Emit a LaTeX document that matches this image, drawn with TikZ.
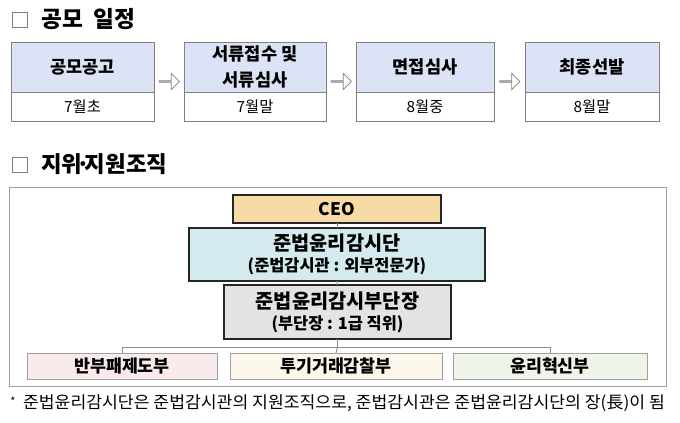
\documentclass[tikz,border=0pt]{standalone}
\usepackage{fontspec}
\setmainfont{Noto Sans CJK KR}
\usetikzlibrary{shapes.arrows}
\definecolor{hdrfill}{HTML}{DDE3F6}
\definecolor{boxline}{HTML}{808080}
\definecolor{ceofill}{HTML}{F6DBA6}
\definecolor{teamfill}{HTML}{D3EBEF}
\definecolor{subfill}{HTML}{E3E3E3}
\definecolor{pinkfill}{HTML}{F9EBEB}
\definecolor{creamfill}{HTML}{FDF6EA}
\definecolor{greenfill}{HTML}{EFF4E8}
\definecolor{darkline}{HTML}{262626}
\definecolor{conn}{HTML}{8C8C8C}
\definecolor{framec}{HTML}{A0A0A0}
\begin{document}
\begin{tikzpicture}[x=0.75pt,y=-0.75pt,
  sz/.style 2 args={minimum width=#1*0.75pt, minimum height=#2*0.75pt},
  base/.style={inner sep=0pt, outer sep=0pt, anchor=north west, align=center},
  hdr/.style={base, draw=boxline, line width=0.75pt, fill=hdrfill, font=\bfseries\fontsize{13.2pt}{20pt}\selectfont},
  cell/.style={base, draw=boxline, line width=0.75pt, fill=white, font=\fontsize{11.5pt}{14pt}\selectfont},
  garrow/.style={single arrow, draw=boxline, fill=white, line width=0.6pt, inner sep=0pt, minimum height=20*0.75pt, minimum width=16*0.75pt, single arrow head extend=4.5*0.75pt},
  sq/.style={draw=boxline, line width=0.6pt, fill=white, inner sep=0pt, minimum size=15*0.75pt},
  ttl/.style={anchor=west, inner sep=0pt, font=\bfseries\fontsize{17pt}{19pt}\selectfont},
  orgbox/.style={base, draw=darkline, line width=1.3pt, font=\bfseries\fontsize{14.8pt}{15.75pt}\selectfont},
  leaf/.style={base, draw=framec, line width=0.75pt, font=\bfseries\fontsize{13pt}{15pt}\selectfont},
  link/.style={draw=conn, line width=0.7pt}
]
\useasboundingbox (0,0) rectangle (680,422);

% ---- title 1
\node[sq] (sq1) at (20,19.5) {};
\node[ttl] (t1) at (41,19) {공모\hspace{0.45em}일정};

% ---- schedule
\node[hdr, sz={143}{50}] (s1h) at (11,42) {공모공고};
\node[cell, sz={143}{29}] (s1b) at (11,92) {7월초};
\node[hdr, sz={142}{50}] (s2h) at (184,42) {서류접수 및\\서류심사};
\node[cell, sz={142}{29}] (s2b) at (184,92) {7월말};
\node[hdr, sz={138}{50}] (s3h) at (356,42) {면접심사};
\node[cell, sz={138}{29}] (s3b) at (356,92) {8월중};
\node[hdr, sz={134}{50}] (s4h) at (525,42) {최종선발};
\node[cell, sz={134}{29}] (s4b) at (525,92) {8월말};

\node[garrow] (a1) at (169,81.5) {};
\node[garrow] (a2) at (341,81.5) {};
\node[garrow] (a3) at (509.5,81.5) {};

% ---- title 2
\node[sq] (sq2) at (20,165) {};
\node[ttl, font=\bfseries\fontsize{16.8pt}{19pt}\selectfont] (t2) at (41,164) {지위\kern-0.25em·\kern-0.25em지원조직};

% ---- frame
\node[base, draw=framec, line width=0.75pt, sz={657}{199}] (frame) at (9,187) {};

% ---- org chart
\node[orgbox, fill=ceofill, sz={208}{28}, font=\bfseries\fontsize{13pt}{15pt}\selectfont] (ceo) at (233,195) {CEO};
\node[orgbox, fill=teamfill, sz={296}{53}] (team) at (189,228)
  {준법윤리감시단\\{\fontsize{12.3pt}{14pt}\selectfont (준법감시관 : 외부전문가)}};
\node[orgbox, fill=subfill, sz={227}{54}] (sub) at (224,285)
  {준법윤리감시부단장\\{\fontsize{12.3pt}{14pt}\selectfont (부단장 : 1급 직위)}};

\node[leaf, fill=pinkfill, sz={190}{26}] (d1) at (27,353) {반부패제도부};
\node[leaf, fill=creamfill, sz={212}{26}] (d2) at (230,353) {투기거래감찰부};
\node[leaf, fill=greenfill, sz={194}{26}] (d3) at (453,353) {윤리혁신부};

\draw[link] (ceo.south) -- (team.north);
\draw[link] (team.south) -- (sub.north);
\coordinate (j) at (337.5,347);
\draw[link] (sub.south) -- (j);
\draw[link] (d1.north) |- (j) -| (d3.north);
\draw[link] (j) -- (d2.north);

% ---- footnote
\node[anchor=west, inner sep=0pt] (note) at (10,403)
  {\resizebox{491pt}{\height}{\fontsize{12.5pt}{14pt}\selectfont {\fontsize{8pt}{10pt}\selectfont\raisebox{2pt}{*}}\ \ 준법윤리감시단은 준법감시관의 지원조직으로, 준법감시관은 준법윤리감시단의 장(長)이 됨}};
\end{tikzpicture}
\end{document}
